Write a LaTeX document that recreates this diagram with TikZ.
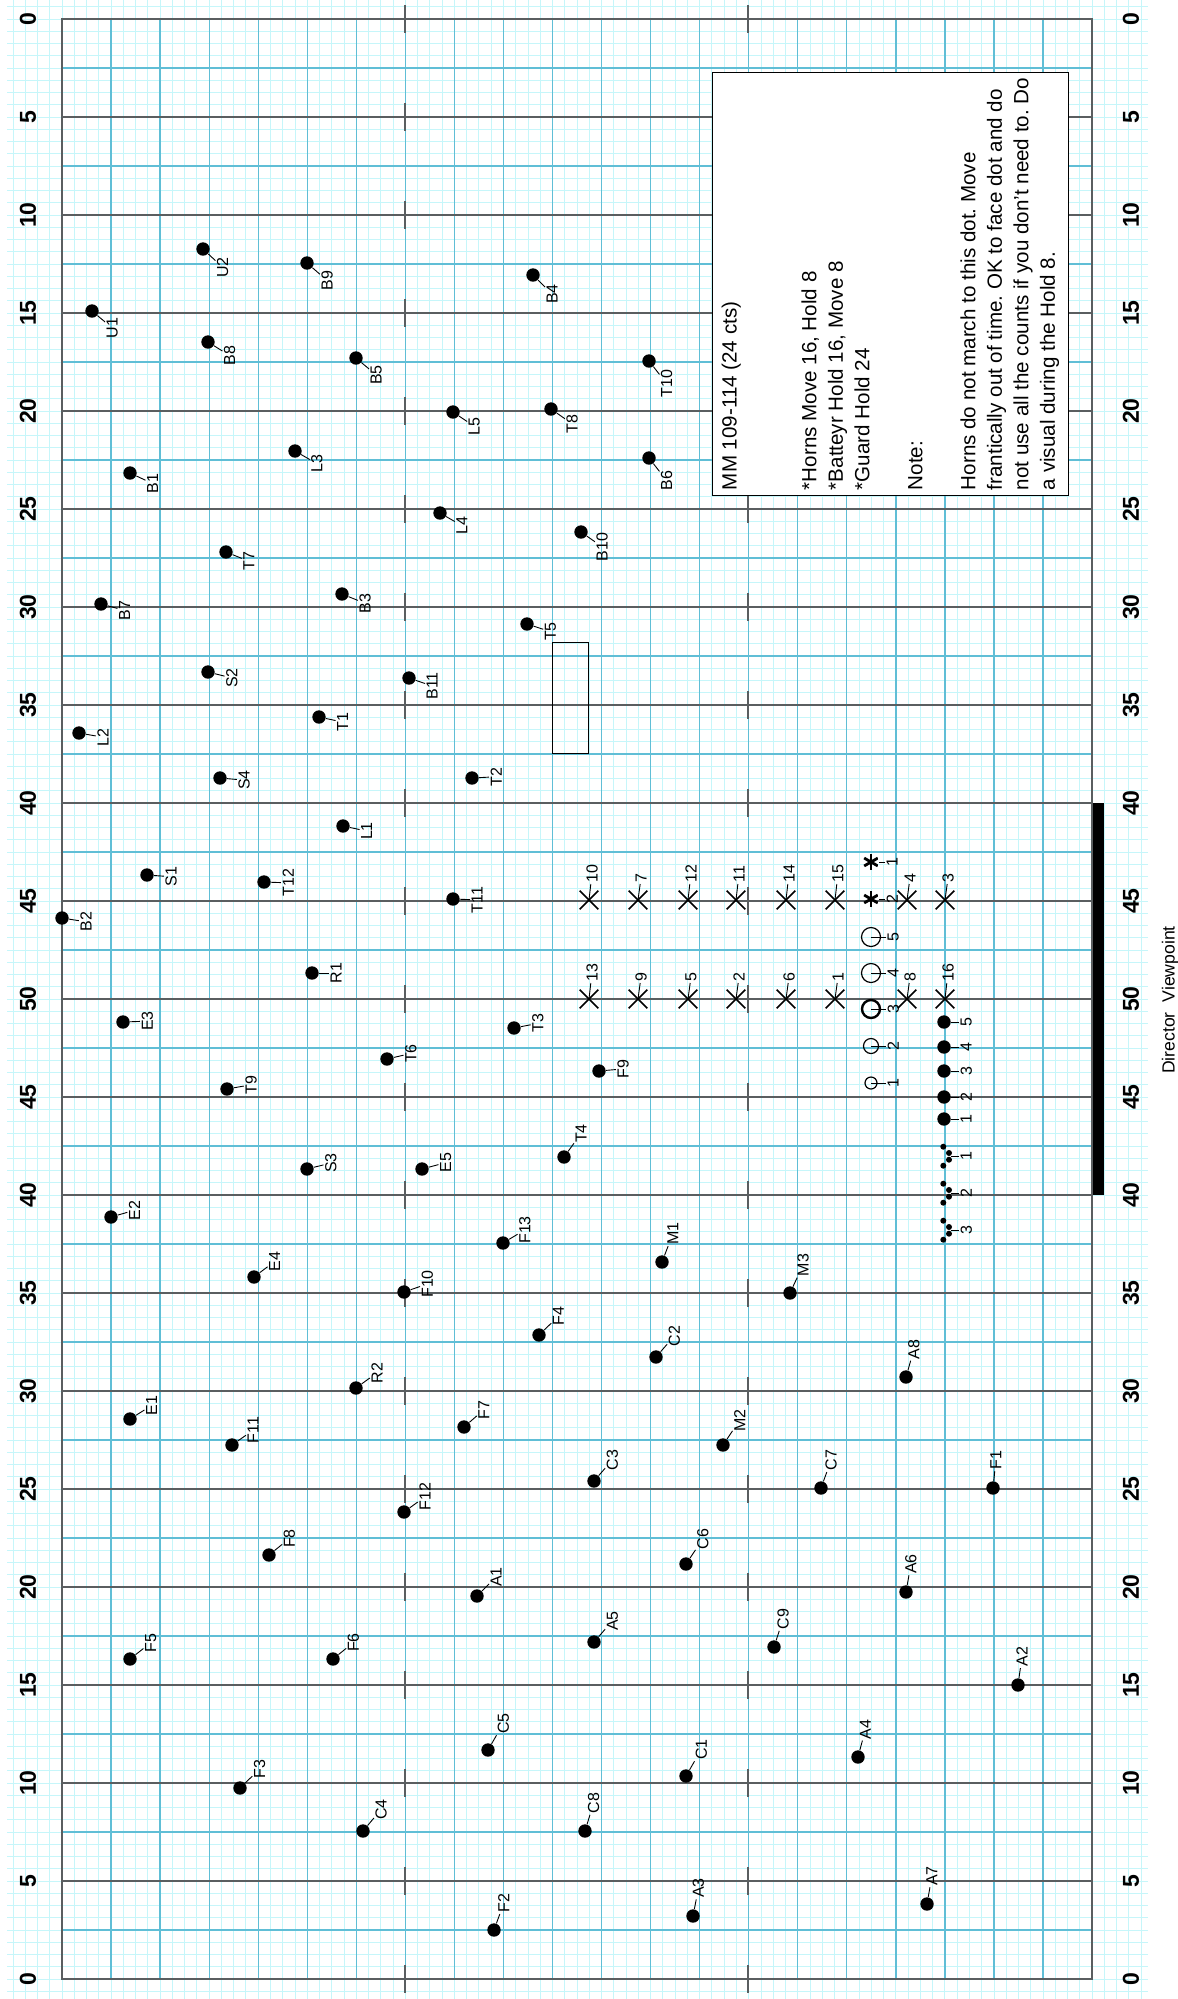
\documentclass[tikz,border=0pt]{standalone}
\usepackage{fontspec}
\setmainfont{Liberation Sans}
\usepackage{tikz}
\usetikzlibrary{shapes.misc}
\frenchspacing

\definecolor{gridlight}{RGB}{198,246,250}
\definecolor{gridblue}{RGB}{96,190,214}
\definecolor{gridgray}{RGB}{90,94,96}

\tikzset{
  mdot/.style={circle,fill=black,inner sep=0pt,minimum size=6.7pt},
  sdot/.style={circle,fill=black,inner sep=0pt,minimum size=3pt},
  lbl/.style={rotate=90,inner sep=0.6pt,font=\fontsize{8}{9}\selectfont},
  lead/.style={line width=0.45pt},
  xmark/.style={cross out,draw,line width=0.85pt,inner sep=0pt,minimum size=8.5pt},
  omark/.style={circle,draw,line width=0.6pt,inner sep=0pt},
  ast/.style={circle,inner sep=0pt,minimum size=8pt,
    path picture={\foreach \t in {30,90,150}
      \draw[line width=1.4pt] ([shift={(\t:4pt)}]path picture bounding box.center)
        -- ([shift={({\t+180}:4pt)}]path picture bounding box.center);}},
  ydnum/.style={rotate=90,font=\fontsize{11.5}{12}\selectfont\bfseries},
  notebox/.style={draw,line width=0.5pt,fill=white,rotate=90,align=left,
    font=\fontsize{10.3}{13.26}\selectfont,minimum width=211.5pt,minimum height=178pt,
    inner xsep=2.4pt,inner ysep=4pt}
}

\begin{document}
\begin{tikzpicture}[x=0.5pt,y=0.5pt,yscale=-1,xscale=1]
%set diagram to the size of the sheet
\useasboundingbox (0,0) rectangle (1178,1999);
\fill[white] (0,0) rectangle (1178,1999);

%Grid: light steps
\foreach \i in {-1,...,161}
  \draw[gridlight,line width=0.45pt] (7,{19+12.25*\i}) -- (1148,{19+12.25*\i});
\foreach \i in {-4,...,88}
  \draw[gridlight,line width=0.45pt] ({62+12.2625*\i},0) -- ({62+12.2625*\i},1999);

%Grid: 2.5 yd lines
\foreach \i in {0,...,40}
  \draw[gridblue,line width=0.65pt] (62,{19+49*\i}) -- (1092,{19+49*\i});
\foreach \i in {1,...,20}
  \draw[gridblue,line width=0.65pt] ({62+49.05*\i},19) -- ({62+49.05*\i},1979);

%Yard lines and border
\foreach \i in {0,...,20}
  \draw[gridgray,line width=0.75pt] (62,{19+98*\i}) -- (1092,{19+98*\i});
\draw[gridgray,line width=0.75pt] (62,19) rectangle (1092,1979);

%Hash marks
\foreach \i in {0,...,20} {
  \draw[gridgray,line width=1.3pt] (405,{19+98*\i-14}) -- (405,{19+98*\i+14});
  \draw[gridgray,line width=1.3pt] (748,{19+98*\i-14}) -- (748,{19+98*\i+14});
}

% Text Node: yard numbers
\foreach \i in {0,...,20} {
  \pgfmathtruncatemacro\yd{5*min(\i,20-\i)}
  \node[ydnum] (ydl\i) at (28,{19+98*\i}) {\yd};
  \node[ydnum] (ydr\i) at (1131,{19+98*\i}) {\yd};
}

% Text Node: notes
\node[notebox,anchor=north west] (notes) at (712,496) {MM 109-114 (24 cts)\\[26.5pt]
*Horns Move 16, Hold 8\\
*Batteyr Hold 16, Move 8\\
*Guard Hold 24\\[13.26pt]
Note:\\[13.26pt]
Horns do not march to this dot. Move\\
frantically out of time. OK to face dot and do\\
not use all the counts if you don't need to. Do\\
a visual during the Hold 8.};

%Shape: Rectangle
\draw[line width=0.55pt] (552.7,642.3) rectangle (588.7,753.3);

%Shape: director bar
\fill[black] (1093,803) rectangle (1104,1195);
% Text Node
\node[rotate=90,font=\fontsize{8.8}{10}\selectfont] (dirview) at (1170,1000) {Director\hspace{5pt}Viewpoint};

%Dots with labels
\foreach \n/\x/\y/\a in {
  U1/92/311/40, U2/203/249/43, B9/307/263/41, B8/208/342/32, B5/356/358/40,
  B4/533/275/45, T10/649/361/52, L5/453/412/34, T8/551/409/35, B1/130/473/25,
  L3/295/451/30, B6/649/458/52, L4/440/513/30, B10/581/532/35, T7/226/552/22,
  B3/342/594/22, B7/101/604/15, T5/527/624/18, S2/208/672/14, B11/409/678/19,
  T1/319/717/12, L2/79/733/10, T2/472/778/-3, S4/220/778/5, L1/343/826/12,
  S1/147/875/4, T12/264/882/2, T11/453/899/2, B2/62/918/9, R1/312/973/0,
  E3/123/1022/-2, T3/514/1028/-11, T6/387/1059/-13, F9/599/1071/-5, T9/227/1089/-10,
  T4/564/1157/-54, S3/307/1169/-14, E5/422/1169/-15, E2/111/1217/-16, F13/503/1243/-31,
  M1/662/1262/-69, E4/254/1277/-37, F10/404/1292/-19, M3/790/1293/-65, F4/539/1335/-44,
  C2/656/1357/-49, R2/356/1388/-36, A8/906/1377/-74, E1/130/1419/-32, F7/464/1427/-41,
  F11/232/1445/-35, M2/723/1445/-56, C3/594/1481/-49, C7/821/1488/-70, F1/993/1488/-84,
  F12/404/1512/-36, F8/269/1555/-39, C6/686/1564/-56, A1/477/1596/-45, A6/906/1592/-80,
  F5/130/1659/-38, F6/333/1659/-39, A5/594/1642/-49, C9/774/1647/-72, A2/1018/1685/-82,
  C5/488/1750/-60, A4/858/1757/-75, F3/240/1788/-44, C1/686/1776/-60, C4/363/1831/-50,
  C8/585/1831/-73, A7/927/1904/-80, F2/494/1930/-70, A3/693/1916/-79} {
  \pgfmathtruncatemacro\an{90-(\a)}
  \node[mdot] (\n) at (\x,\y) {};
  \node[lbl,anchor=\an] (l\n) at ({\x+17*cos(\a)},{\y+17*sin(\a)}) {\n};
  \draw[lead] (\n) -- (l\n);
}

%Crosses
\foreach \n/\x/\y in {10/589/900, 7/638/900, 12/688/900, 11/736/900, 14/786/900,
  15/835/900, 4/907/900, 3/945/900, 13/589/999, 9/638/999, 5/688/999, 2/736/999,
  6/786/999, 1/835/999, 8/907/999, 16/945/999} {
  \node[xmark] (x\n) at (\x,\y) {};
  \node[lbl,anchor=180] (lx\n) at ({\x+3},{\y-16}) {\n};
  \draw[lead] (x\n.center) -- (lx\n);
}

%Asterisks
\foreach \n/\y in {1/862, 2/899} {
  \node[ast] (k\n) at (871,\y) {};
  \node[lbl,anchor=90] (lk\n) at (885,\y) {\n};
  \draw[lead] (k\n) -- (lk\n);
}

%Open circles
\foreach \n/\y/\s/\w in {1/1083/6/0.6, 2/1046/7.5/0.6, 3/1009/9/1.2, 4/973/9.5/0.6, 5/937/9.5/0.6} {
  \node[omark,minimum size=\s pt,line width=\w pt] (o\n) at (871,\y) {};
  \node[lbl,anchor=90] (lo\n) at (886,\y) {\n};
  \draw[lead] (o\n.center) -- (lo\n);
}

%Filled dots in a row
\foreach \n/\y in {1/1119, 2/1097, 3/1071, 4/1047, 5/1022} {
  \node[mdot] (p\n) at (944,\y) {};
  \node[lbl,anchor=90] (lp\n) at (959,\y) {\n};
  \draw[lead] (p\n) -- (lp\n);
}

%Small dot groups
\foreach \n/\y in {1/1156, 2/1193, 3/1230} {
  \node[sdot] (g\n a) at (943.3,{\y-9.3}) {};
  \node[sdot] (g\n b) at (949,{\y-3}) {};
  \node[sdot] (g\n c) at (949,{\y+3.7}) {};
  \node[sdot] (g\n d) at (943.3,{\y+9.7}) {};
  \coordinate (g\n) at (951,\y);
  \node[lbl,anchor=90] (lg\n) at (959,\y) {\n};
  \draw[lead] (g\n) -- (lg\n);
}

\end{tikzpicture}
\end{document}
